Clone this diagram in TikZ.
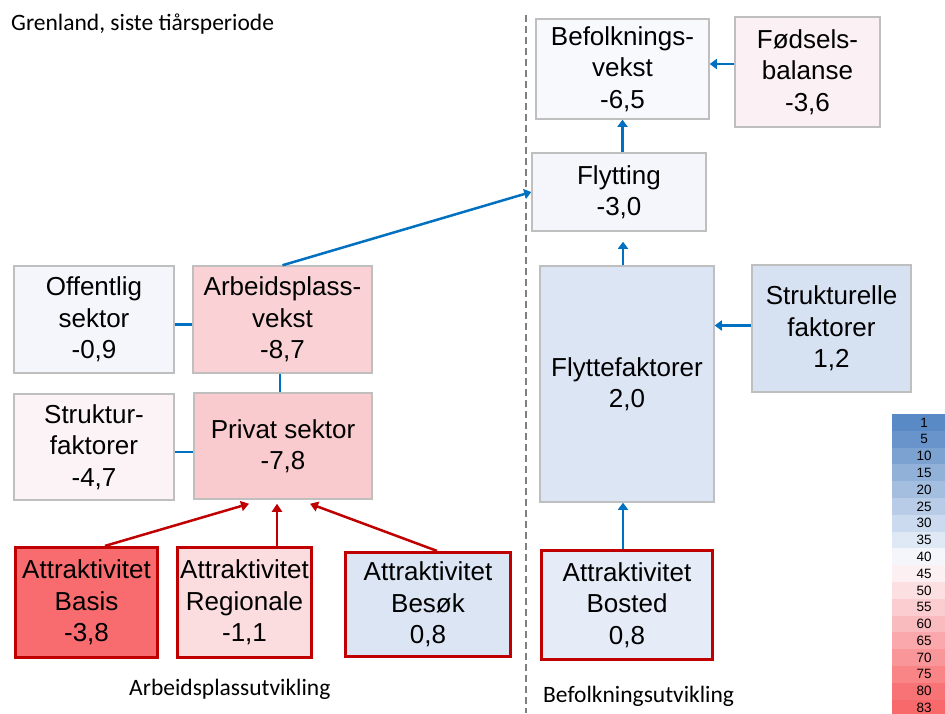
\documentclass[tikz,border=0pt]{standalone}
\usepackage{fontspec}
\setmainfont{Liberation Sans}
\newfontfamily\calibri{Carlito}
\usetikzlibrary{arrows.meta}

\definecolor{linkblue}{HTML}{0070C0}
\definecolor{attrred}{HTML}{C00000}
\definecolor{edgegrey}{HTML}{BFBFBF}
\definecolor{divgrey}{HTML}{808080}
\definecolor{lgblue}{HTML}{5A8AC6}
\definecolor{lgwhite}{HTML}{FCFCFF}
\definecolor{lgred}{HTML}{F8696B}

\definecolor{cbef}{HTML}{F8F9FD}
\definecolor{cfod}{HTML}{FBF0F3}
\definecolor{cfly}{HTML}{F4F6FC}
\definecolor{cffak}{HTML}{DCE5F4}
\definecolor{cstruk}{HTML}{D6E1F2}
\definecolor{cbosted}{HTML}{E5EBF7}
\definecolor{coff}{HTML}{F4F6FC}
\definecolor{carb}{HTML}{FAD2D5}
\definecolor{csfak}{HTML}{FBF3F6}
\definecolor{cpriv}{HTML}{FACBCE}
\definecolor{cbasis}{HTML}{F86B6E}
\definecolor{creg}{HTML}{FBDCDF}
\definecolor{cbesok}{HTML}{DCE5F4}

\tikzset{
	cellbox/.style={draw=edgegrey, line width=1.5pt, align=center, inner sep=0pt, font=\fontsize{26}{31.5}\selectfont},
	attrbox/.style={cellbox, draw=attrred, line width=3.2pt},
	link/.style={draw=linkblue, line width=2.5pt},
	blueflow/.style={link, -{Triangle[width=10pt,length=7pt]}},
	redflow/.style={draw=attrred, line width=2.5pt, -{Triangle[width=10pt,length=8pt]}},
	note/.style={font=\calibri\fontsize{23.5}{28}\selectfont, inner sep=0pt, anchor=base west},
}

\begin{document}
\begin{tikzpicture}[x=1pt, y=-1pt]
	\useasboundingbox (0,0) rectangle (945,713);
	\fill[white] (0,0) rectangle (945,713);

	\node[note] (title) at (11,30) {Grenland, siste tiårsperiode};
	\node[note] (arbutv) at (129,695) {Arbeidsplassutvikling};
	\node[note] (befutv) at (543,702) {Befolkningsutvikling};

	\coordinate (divtop) at (526,15);
	\coordinate (divbot) at (526,713);
	\draw[divgrey, line width=2.5pt, dash pattern=on 7pt off 4pt] (divtop) -- (divbot);

	\node[cellbox, fill=cbef, minimum width=173pt, minimum height=100pt] (bef) at (622.5,69) {Befolknings-\\vekst\\-6,5};
	\node[cellbox, fill=cfod, minimum width=145pt, minimum height=110pt] (fod) at (807.5,72) {Fødsels-\\balanse\\-3,6};
	\node[cellbox, fill=cfly, minimum width=174pt, minimum height=78pt] (fly) at (619,192) {Flytting\\-3,0};
	\node[cellbox, fill=cffak, minimum width=174pt, minimum height=236pt] (ffak) at (627,384) {Flyttefaktorer\\2,0};
	\node[cellbox, fill=cstruk, minimum width=159pt, minimum height=127pt] (struk) at (831.5,328.5) {Strukturelle\\faktorer\\1,2};
	\node[attrbox, fill=cbosted, minimum width=171pt, minimum height=109pt] (bosted) at (627,605) {Attraktivitet\\Bosted\\0,8};

	\node[cellbox, fill=coff, minimum width=160pt, minimum height=107pt] (off) at (94,319.5) {Offentlig\\sektor\\-0,9};
	\node[cellbox, fill=carb, minimum width=179pt, minimum height=107pt] (arb) at (282.5,319.5) {Arbeidsplass-\\vekst\\-8,7};
	\node[cellbox, fill=csfak, minimum width=160pt, minimum height=106pt] (sfak) at (94,447) {Struktur-\\faktorer\\-4,7};
	\node[cellbox, fill=cpriv, minimum width=178pt, minimum height=106pt] (priv) at (283,446) {Privat sektor\\-7,8};
	\node[attrbox, fill=cbasis, minimum width=142pt, minimum height=110pt] (basis) at (86.5,602.5) {Attraktivitet\\Basis\\-3,8};
	\node[attrbox, fill=creg, minimum width=134pt, minimum height=110pt] (reg) at (244.5,602.5) {Attraktivitet\\Regionale\\-1,1};
	\node[attrbox, fill=cbesok, minimum width=165pt, minimum height=104pt] (besok) at (428,604.5) {Attraktivitet\\Besøk\\0,8};

	\draw[link] ([yshift=-5pt]off.east) -- ([yshift=-5pt]off.east -| arb.west);
	\draw[link] ([yshift=-5pt]sfak.east) -- ([yshift=-5pt]sfak.east -| priv.west);
	\draw[link] ([xshift=-2.5pt]arb.south) -- ([xshift=-2.5pt]arb.south |- priv.north);
	\draw[blueflow] (arb.north) -- (fly.west);
	\draw[blueflow] ([yshift=8pt]fod.west) -- ([yshift=8pt]fod.west -| bef.east);
	\draw[blueflow] (bef.south |- fly.north) -- (bef.south);
	\draw[blueflow, shorten >=10pt] ([xshift=-4pt]ffak.north) -- ([xshift=-4pt]ffak.north |- fly.south);
	\draw[blueflow] ([yshift=3pt]struk.west) -- ([yshift=3pt]struk.west -| ffak.east);
	\draw[blueflow] ([xshift=-4pt]bosted.north) -- ([xshift=-4pt]bosted.north |- ffak.south);
	\draw[redflow] ([xshift=18.5pt]basis.north) -- ([xshift=-34pt,yshift=-4pt]priv.south);
	\draw[redflow] ([xshift=32.5pt]reg.north) -- ([xshift=-6pt,yshift=-4pt]priv.south);
	\draw[redflow] ([xshift=9pt]besok.north) -- ([xshift=27pt,yshift=-4pt]priv.south);

	\begin{scope}
		\clip (0,0) rectangle (945,713);
		\foreach \v [count=\i from 0] in {1,5,10,15,20,25,30,35,40,45,50,55,60,65,70,75,80,83} {
			\ifnum\v<42
				\pgfmathtruncatemacro\pw{(\v-1)/41*100}
				\colorlet{lgc}{lgwhite!\pw!lgblue}
			\else
				\pgfmathtruncatemacro\pw{100-(\v-42)/41*100}
				\colorlet{lgc}{lgwhite!\pw!lgred}
			\fi
			\fill[lgc] (892,414+16.8*\i) rectangle (957,414+16.8*\i+16.8);
			\node[inner sep=0pt, font=\fontsize{13.5}{14}\selectfont] (lg\i) at (924,414+16.8*\i+8.4) {\v};
		}
	\end{scope}
\end{tikzpicture}
\end{document}
